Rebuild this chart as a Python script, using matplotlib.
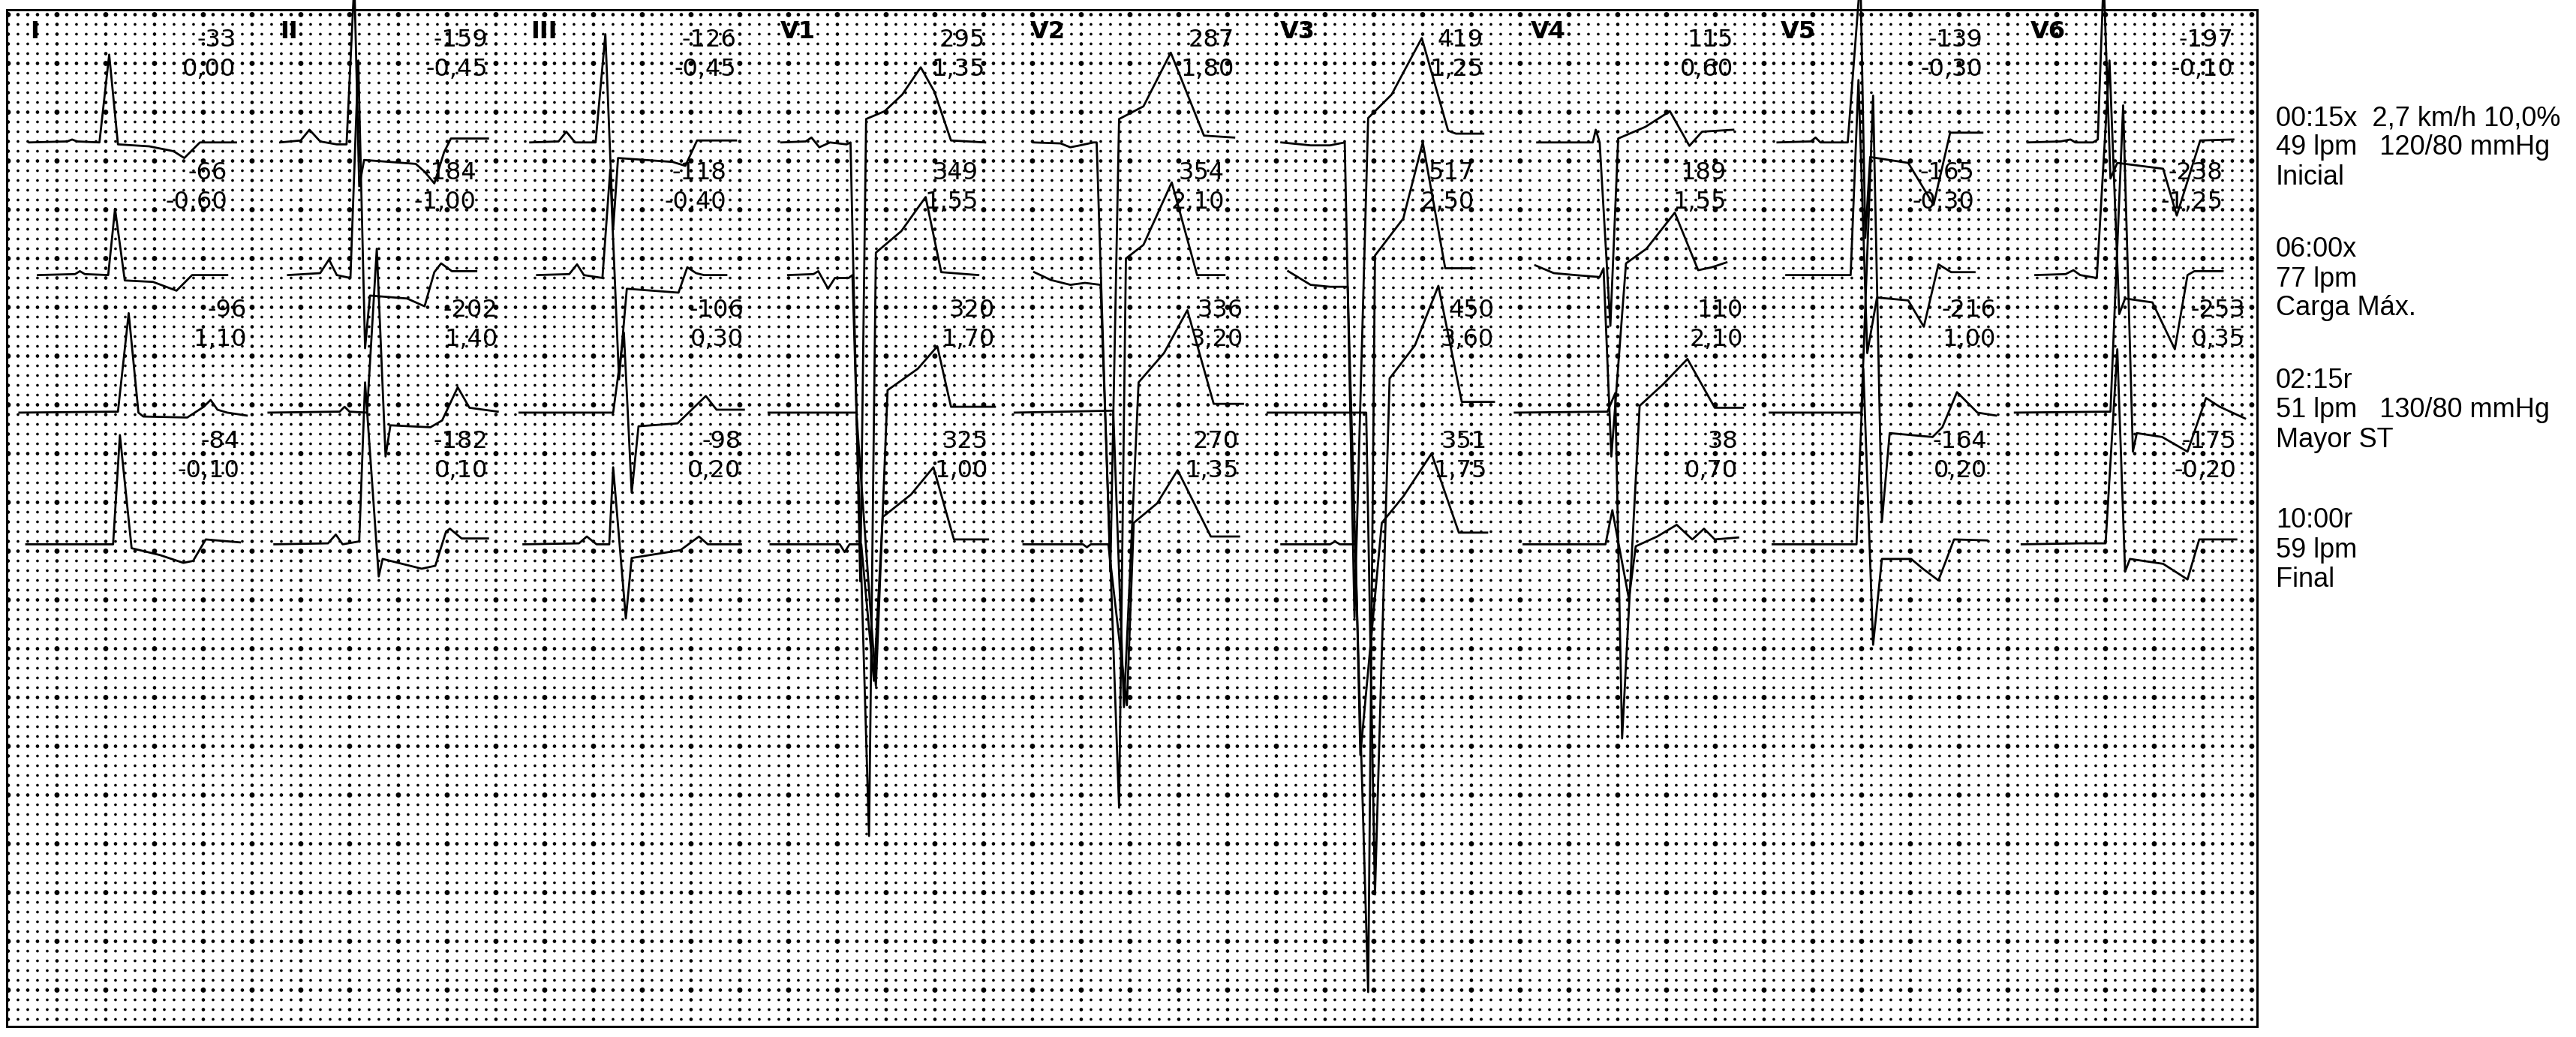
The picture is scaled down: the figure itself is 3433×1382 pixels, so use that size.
import matplotlib
matplotlib.use("Agg")
import matplotlib.pyplot as plt
import numpy as np

W, H = 3433, 1382
DPI = 100

# frame of the paper grid, in pixels of the final image
BOX_L, BOX_R, BOX_T, BOX_B = 9, 3008, 13, 1368
SQ = 13.0  # one small square, px

LEADS = ["I", "II", "III", "V1", "V2", "V3", "V4", "V5", "V6"]

# baseline of every stage row (small squares from the top of the grid)
ROW_BASE = [13.6, 27.2, 41.3, 54.8]

# complexes: (t, amplitude) read off the strip, both in small squares,
# t from the start of the lead column, amplitude positive upwards
LEAD_I = [
    [(2.3, 0), (6.2, 0.1), (6.7, 0.3), (7.2, 0.1), (9.5, 0), (10.5, 9.0), (11.4, -0.2),
     (14.6, -0.4), (17.1, -0.9), (18.2, -1.6), (19.8, 0), (23.5, 0)],
    [(3.2, 0), (7.0, 0.1), (7.5, 0.4), (8.0, 0.1), (10.4, 0), (11.1, 6.8), (12.1, -0.55),
     (15.0, -0.7), (17.4, -1.6), (19.0, 0), (22.6, 0)],
    [(1.3, 0), (11.4, 0.1), (12.5, 10.2), (13.5, 0), (14.0, -0.4), (18.5, -0.5), (20.2, 0.6),
     (20.9, 1.3), (21.6, 0.3), (22.6, 0), (24.6, -0.3)],
    [(2.0, 0), (10.9, 0), (11.6, 11.2), (12.8, -0.4), (15.7, -1.1), (18.1, -1.9), (19.1, -1.7),
     (20.4, 0.5), (23.9, 0.2)],
]
LEAD_II = [
    [(2.4, 0), (4.5, 0.2), (5.4, 1.3), (6.5, 0.1), (8.2, -0.2), (9.2, -0.2), (10.0, 16.5),
     (10.5, -4.5), (11.0, -1.8), (16.3, -2.2), (17.2, -3.0), (18.2, -4.2), (19.2, -1.0),
     (19.9, 0.4), (23.7, 0.4)],
    [(3.2, 0), (6.5, 0.2), (7.4, 1.6), (8.2, 0), (9.6, -0.3), (10.4, 22.0), (11.1, -7.5),
     (11.6, -2.1), (15.4, -2.4), (17.2, -3.2), (18.2, 0.3), (18.9, 1.2), (20.0, 0.4), (22.5, 0.4)],
    [(1.2, 0), (8.5, 0.1), (9.0, 0.6), (9.5, 0.1), (11.3, 0), (12.3, 16.8), (13.2, -4.5),
     (13.7, -1.3), (17.8, -1.5), (19.0, -0.8), (20.6, 2.6), (21.8, 0.5), (24.7, 0.1)],
    [(1.8, 0), (7.3, 0.1), (8.1, 1.0), (8.8, 0), (10.5, 0.3), (11.1, 16.6), (12.5, -3.3),
     (12.9, -1.5), (16.9, -2.5), (18.3, -2.2), (19.4, 1.3), (19.8, 1.6), (21.0, 0.6), (23.7, 0.6)],
]
LEAD_III = [
    [(2.4, 0), (5.3, 0.1), (6.1, 1.1), (7.0, 0), (9.1, 0), (10.1, 11.1), (10.9, -8.9),
     (11.4, -1.6), (17.0, -2.0), (18.3, -2.4), (19.5, 0.2), (23.5, 0.2)],
    [(3.1, 0), (6.4, 0.1), (7.2, 1.1), (7.9, 0), (9.8, -0.3), (10.6, 10.8), (11.5, -10.7),
     (12.3, -1.4), (17.6, -1.8), (18.5, 0.8), (19.4, 0.2), (20.2, 0), (22.5, 0)],
    [(1.3, 0), (10.9, 0), (12.0, 8.2), (12.8, -8.2), (13.5, -1.4), (17.5, -1.1), (20.4, 1.7),
     (21.5, 0.3), (24.3, 0.3)],
    [(1.7, 0), (7.4, 0.1), (8.2, 0.8), (9.2, 0), (10.5, 0), (10.9, 7.9), (12.2, -7.6),
     (12.8, -1.4), (17.8, -0.6), (19.7, 0.8), (20.6, 0), (24.0, 0)],
]
LEAD_V1 = [
    [(2.5, 0), (5.0, 0.1), (5.6, 0.5), (6.4, -0.5), (7.5, 0), (9.2, -0.2), (9.6, 0),
     (10.6, -45.0), (11.2, 2.4), (13.1, 3.2), (14.9, 4.9), (16.8, 7.7), (18.2, 5.2),
     (19.9, 0.2), (23.4, 0)],
    [(3.2, 0), (5.8, 0.1), (6.3, 0.4), (7.3, -1.4), (8.0, -0.3), (9.4, -0.3), (9.8, 0),
     (11.5, -57.5), (12.2, 2.3), (14.8, 4.5), (17.3, 8.0), (18.9, 0.3), (22.7, 0)],
    [(1.2, 0), (10.2, 0), (12.2, -28.0), (13.4, 2.3), (16.5, 4.5), (18.5, 6.8), (19.9, 0.6),
     (24.4, 0.6)],
    [(1.4, 0), (8.5, 0), (9.0, -0.8), (9.5, 0), (10.7, 0), (12.0, -14.0), (12.9, 2.8),
     (15.8, 5.1), (18.1, 7.9), (20.2, 0.5), (23.7, 0.5)],
]
LEAD_V2 = [
    [(2.7, 0), (5.5, -0.1), (6.5, -0.5), (7.5, -0.3), (8.9, 0), (9.2, 0), (10.6, -44.0),
     (11.5, 2.4), (14.0, 3.7), (16.8, 9.2), (20.2, 0.7), (23.3, 0.5)],
    [(2.8, 0.3), (4.5, -0.5), (6.5, -1.0), (8.0, -0.8), (9.6, -1.0), (11.5, -54.6),
     (12.2, 1.7), (14.0, 3.1), (16.9, 9.5), (19.5, 0), (22.3, 0)],
    [(0.8, 0), (10.9, 0.2), (12.0, -30.2), (13.5, 3.1), (16.1, 6.1), (18.5, 10.5),
     (21.2, 0.9), (24.2, 0.9)],
    [(1.7, 0), (7.8, 0), (8.2, -0.3), (8.6, 0), (10.4, 0), (12.3, -16.5), (13.0, 2.2),
     (15.4, 4.2), (17.5, 7.6), (20.9, 0.8), (23.8, 0.8)],
]
LEAD_V3 = [
    [(2.5, 0), (5.5, -0.3), (7.5, -0.3), (9.0, 0), (10.0, -48.7), (11.4, 2.5), (13.8, 4.9),
     (16.9, 10.7), (19.6, 1.2), (20.4, 0.9), (23.2, 0.9)],
    [(3.2, 0.4), (5.5, -1.0), (7.5, -1.2), (9.3, -1.2), (11.4, -73.5), (12.1, 2.0),
     (15.0, 5.8), (17.0, 13.6), (19.3, 0.7), (22.3, 0.7)],
    [(1.1, 0), (11.2, 0), (12.1, -49.4), (13.6, 3.5), (16.2, 6.9), (18.6, 13.0),
     (21.0, 1.1), (24.3, 1.1)],
    [(2.5, 0), (7.5, 0), (8.0, 0.3), (8.5, 0), (10.1, 0), (10.6, -21.6), (12.8, 2.2),
     (15.0, 4.9), (17.9, 9.3), (20.7, 1.2), (23.6, 1.2)],
]
LEAD_V4 = [
    [(3.1, 0), (8.8, 0), (9.1, 1.3), (9.5, 0), (10.6, -18.8), (11.4, 0.4), (14.2, 1.6),
     (16.7, 3.2), (18.7, -0.35), (20.0, 1.1), (23.2, 1.3)],
    [(2.9, 1.0), (4.8, 0.2), (7.0, 0), (9.5, -0.2), (9.9, 0.7), (10.7, -18.6), (12.2, 1.2),
     (14.3, 2.7), (17.2, 6.4), (19.6, 0.5), (21.0, 0.8), (22.5, 1.3)],
    [(0.8, 0), (10.3, 0.1), (11.1, 2.0), (11.8, -33.4), (13.6, 0.7), (16.0, 2.9),
     (18.5, 5.5), (21.3, 0.5), (24.2, 0.5)],
    [(1.7, 0), (10.1, 0), (10.8, 3.5), (12.5, -5.6), (13.2, -0.2), (15.4, 0.8), (17.4, 2.0),
     (19.0, 0.5), (20.2, 1.6), (21.3, 0.5), (23.7, 0.7)],
]
LEAD_V5 = [
    [(2.1, 0), (5.5, 0.1), (6.0, 0.5), (6.5, 0), (9.3, 0), (10.6, 17.0), (11.1, -9.8),
     (11.6, -1.5), (15.5, -2.1), (18.1, -6.4), (19.8, 1.0), (23.1, 1.0)],
    [(3.0, 0), (9.6, 0), (10.4, 20.0), (11.3, -8.0), (12.3, -2.3), (15.5, -2.6),
     (17.1, -5.3), (18.6, 1.1), (19.9, 0.3), (22.3, 0.3)],
    [(1.3, 0), (10.7, 0), (11.9, 32.5), (12.8, -11.2), (13.6, -2.1), (18.0, -2.5),
     (19.0, -1.5), (20.5, 2.1), (22.6, 0), (24.5, -0.3)],
    [(1.6, 0), (10.2, 0), (10.9, 18.0), (11.9, -10.3), (12.8, -1.5), (15.8, -1.5),
     (17.0, -2.5), (18.6, -3.7), (20.2, 0.5), (23.6, 0.4)],
]
LEAD_V6 = [
    [(2.1, 0), (5.5, 0.1), (6.5, 0.3), (7.0, 0), (8.8, 0), (9.3, 0.3), (9.9, 17.0),
     (10.6, -3.7), (11.3, -2.1), (16.0, -2.7), (17.4, -7.5), (19.8, 0.2), (23.2, 0.3)],
    [(2.9, 0), (6.0, 0.1), (6.8, 0.5), (7.5, 0), (9.2, -0.3), (10.5, 22.0), (11.5, -4.0),
     (12.1, -2.4), (14.9, -2.8), (17.2, -7.6), (18.5, 0), (19.2, 0.4), (22.1, 0.4)],
    [(0.8, 0), (10.6, 0.1), (11.9, 31.5), (12.9, -4.0), (13.3, -2.1), (15.9, -2.5),
     (18.5, -4.0), (20.4, 1.5), (21.8, 0.6), (24.4, -0.6)],
    [(1.5, 0), (7.5, 0.1), (10.1, 0.1), (11.3, 20.0), (12.1, -2.8), (12.6, -1.5),
     (16.0, -2.0), (18.5, -3.6), (19.7, 0.5), (23.5, 0.5)],
]
TRACES = [LEAD_I, LEAD_II, LEAD_III, LEAD_V1, LEAD_V2, LEAD_V3, LEAD_V4, LEAD_V5, LEAD_V6]

# upper measurement and ST value printed over each complex
TOP_VALS = [
    ["-33", "-66", "-96", "-84"],
    ["-159", "-184", "-202", "-182"],
    ["-126", "-118", "-106", "-98"],
    ["295", "349", "320", "325"],
    ["287", "354", "336", "270"],
    ["419", "517", "450", "351"],
    ["115", "189", "110", "38"],
    ["-139", "-165", "-216", "-164"],
    ["-197", "-238", "-253", "-175"],
]
ST_VALS = [
    ["0,00", "-0,60", "1,10", "-0,10"],
    ["-0,45", "-1,00", "1,40", "0,10"],
    ["-0,45", "-0,40", "0,30", "0,20"],
    ["1,35", "1,55", "1,70", "1,00"],
    ["1,80", "2,10", "3,20", "1,35"],
    ["1,25", "2,50", "3,60", "1,75"],
    ["0,60", "1,55", "2,10", "0,70"],
    ["-0,30", "-0,30", "1,00", "0,20"],
    ["-0,10", "-1,25", "0,35", "-0,20"],
]

# stage notes on the right
STAGE_TEXT = [
    ["00:15x  2,7 km/h 10,0%", "49 lpm   120/80 mmHg", "Inicial"],
    ["06:00x", "77 lpm", "Carga Máx."],
    ["02:15r", "51 lpm   130/80 mmHg", "Mayor ST"],
    ["10:00r", "59 lpm", "Final"],
]
STAGE_Y = [158, 333, 508, 694]   # px, first line of each note

fig = plt.figure(figsize=(W / DPI, H / DPI), dpi=DPI)
ax = fig.add_axes([BOX_L / W, 1 - BOX_B / H, (BOX_R - BOX_L) / W, (BOX_B - BOX_T) / H])
nx = (BOX_R - BOX_L) / SQ
ny = (BOX_B - BOX_T) / SQ
ax.set_xlim(0, nx)
ax.set_ylim(ny, 0)
ax.set_xticks([])
ax.set_yticks([])
for s in ax.spines.values():
    s.set_linewidth(2.2)

# dotted paper
gx = np.arange(0, int(nx) + 1)
gy = np.arange(0, int(ny) + 1)
GX, GY = np.meshgrid(gx, gy)
mx = GX % 5 == 0
my = GY % 5 == 0
sizes = np.where(mx & my, 24, np.where(mx | my, 11, 7))
ax.scatter(GX.ravel() + 0.15, GY.ravel() + 0.5, s=sizes.ravel(), c="black",
           linewidths=0, marker="o", zorder=1)

col_w = nx / len(LEADS)
num_font = dict(family="DejaVu Sans", fontsize=23, ha="right", va="center", zorder=2)

for k, lead in enumerate(LEADS):
    x0 = k * col_w
    ax.text(x0 + 2.4, 2.3, lead, fontsize=23, fontweight="bold", family="DejaVu Sans",
            ha="left", va="center", zorder=2)
    for r, pts in enumerate(TRACES[k]):
        t = np.array([p[0] for p in pts])
        v = np.array([p[1] for p in pts])
        ax.plot(x0 + t, ROW_BASE[r] - v, color="black", lw=2.0, clip_on=False,
                solid_joinstyle="round", zorder=3)
        xe = x0 + t[-1]
        ax.text(xe, ROW_BASE[r] - 10.5, TOP_VALS[k][r], **num_font)
        ax.text(xe, ROW_BASE[r] - 7.5, ST_VALS[k][r], **num_font)

for g, lines in enumerate(STAGE_TEXT):
    for i, s in enumerate(lines):
        y = STAGE_Y[g] + 39 * i
        fig.text(3033 / W, 1 - y / H, s, fontsize=26, family="Liberation Sans",
                 ha="left", va="center")

fig.savefig("out.png", dpi=DPI, facecolor="white")
